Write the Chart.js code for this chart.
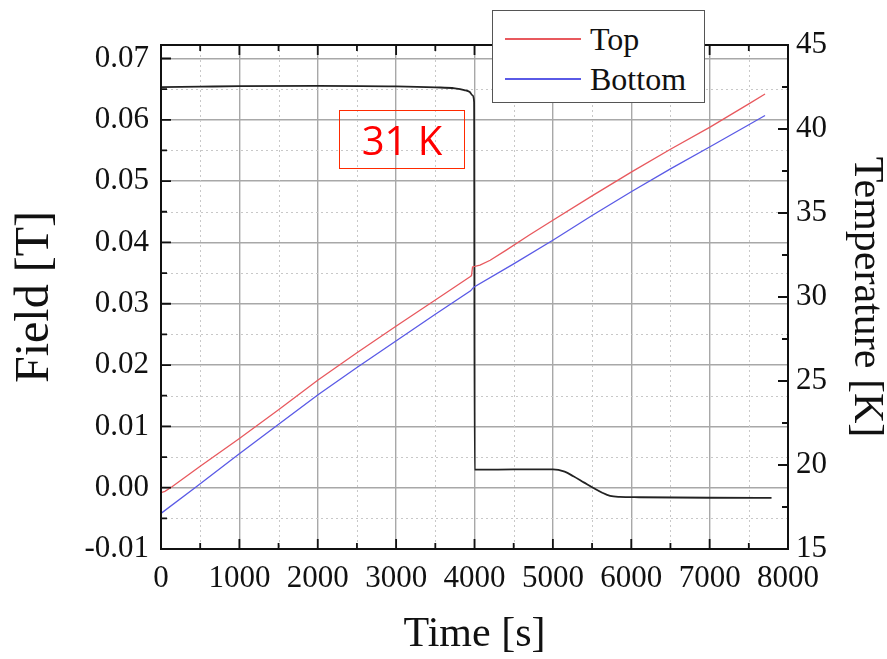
<!DOCTYPE html>
<html lang="en">
<head>
<meta charset="utf-8">
<title>Field and temperature vs time</title>
<script src="https://cdn.jsdelivr.net/npm/chart.js@4"></script>
<style>
    html, body { margin: 0; padding: 0; background: #fff; }
    .wrap { position: relative; width: 887px; height: 659px; }
    #chart { position: absolute; left: 0; top: 0; }
    /* legend box sits over the top frame line */
    .legend { position: absolute; left: 492px; top: 10px; width: 211px; height: 91px;
              border: 1.5px solid #555; background: #fff;
              font-family: "Liberation Serif", serif; font-size: 32px; color: #111; }
    .legend .row { position: absolute; left: 0; width: 100%; height: 36px; }
    .legend .swatch { position: absolute; left: 12px; top: 17px; width: 76px; height: 1.5px; }
    .legend .label { position: absolute; left: 97px; top: 0; line-height: 36px; }
    .note { position: absolute; left: 339px; top: 110px; width: 124px; height: 57px;
            border: 1.5px solid #ff2a00; color: #ff0000;
            font-family: "Open Sans", sans-serif; font-size: 40px; line-height: 57px; text-align: center; }
</style>
</head>
<body>
<div class="wrap">
    <canvas id="chart" width="887" height="659"></canvas>
    <div class="note">31 K</div>
    <div class="legend">
        <div class="row" style="top:10px"><div class="swatch" style="background:#e8595e"></div><span class="label">Top</span></div>
        <div class="row" style="top:50px"><div class="swatch" style="background:#5a5ae6"></div><span class="label">Bottom</span></div>
    </div>
</div>
<script>
    // Top sensor: time [s] and field [T]
    const timeTop  = [0, 50, 136, 500, 987, 1500, 2008, 2500, 3007, 3500, 3943, 3962, 3975, 4070, 4200, 4400, 4700, 5005, 5500, 6005, 6500, 7005, 7500, 7707];
    const fieldTop = [-0.0008, -0.0006, 0.0001, 0.0035, 0.0079, 0.0127, 0.0176, 0.0220, 0.0264, 0.0306, 0.0344, 0.0346, 0.0360, 0.0363, 0.0371, 0.0387, 0.0412, 0.04365, 0.0476, 0.0515, 0.0552, 0.0588, 0.0626, 0.0642];

    // Bottom sensor
    const timeBottom  = [0, 434, 987, 1518, 2008, 2500, 3007, 3500, 3950, 3990, 4500, 5005, 5500, 6005, 6500, 7005, 7500, 7707];
    const fieldBottom = [-0.0042, 0.0, 0.0054, 0.0105, 0.0152, 0.0196, 0.0240, 0.0283, 0.0321, 0.0327, 0.0365, 0.0404, 0.0444, 0.0483, 0.0520, 0.0556, 0.0592, 0.0607];

    // Temperature [K] on the right axis
    const timeTemp = [0, 500, 1000, 2000, 3000, 3500, 3750, 3870, 3940, 3975, 3995, 4002, 4100, 4500, 5000, 5150, 5262, 5400, 5518, 5630, 5730, 5850, 6100, 7000, 7790];
    const tempK    = [42.49, 42.52, 42.55, 42.57, 42.54, 42.48, 42.42, 42.32, 42.2, 42.0, 41.6, 19.72, 19.72, 19.74, 19.74, 19.6, 19.33, 18.95, 18.63, 18.35, 18.16, 18.1, 18.08, 18.05, 18.04];

    // axis ticks
    const timeTicks  = [0, 1000, 2000, 3000, 4000, 5000, 6000, 7000, 8000];
    const fieldTicks = [-0.01, 0.00, 0.01, 0.02, 0.03, 0.04, 0.05, 0.06, 0.07];
    const tempTicks  = [15, 20, 25, 30, 35, 40, 45];

    const pts = (xs, ys) => xs.map((x, i) => ({ x: x, y: ys[i] }));

    const serif = '"Liberation Serif", "Times New Roman", serif';
    const gridGray = '#a8a8a8';

    // dotted minor grid, black frame and inward tick marks
    const frameTicks = {
        id: 'frameTicks',
        beforeDatasetsDraw(chart) {
            const { ctx, chartArea: a, scales } = chart;
            ctx.save();
            ctx.strokeStyle = '#c8c8c8';
            ctx.lineWidth = 1;
            ctx.setLineDash([2, 3]);
            ctx.beginPath();
            for (let i = 0; i < 8; i++) {
                const px = Math.round(scales.x.getPixelForValue(500 + i * 1000)) + 0.5;
                ctx.moveTo(px, a.top); ctx.lineTo(px, a.bottom);
            }
            for (let i = 0; i < 8; i++) {
                const py = Math.round(scales.y.getPixelForValue(-0.005 + i * 0.01)) + 0.5;
                ctx.moveTo(a.left, py); ctx.lineTo(a.right, py);
            }
            ctx.stroke();
            ctx.restore();
        },
        afterDraw(chart) {
            const { ctx, chartArea: a, scales } = chart;
            ctx.save();
            ctx.strokeStyle = '#111';
            ctx.lineWidth = 2;
            ctx.strokeRect(a.left, a.top, a.right - a.left, a.bottom - a.top);
            ctx.lineWidth = 1.8;
            ctx.beginPath();
            // time ticks, bottom and top
            for (let i = 0; i <= 16; i++) {
                const px = scales.x.getPixelForValue(i * 500);
                const len = i % 2 === 0 ? 10 : 6;
                ctx.moveTo(px, a.bottom); ctx.lineTo(px, a.bottom - len);
                ctx.moveTo(px, a.top); ctx.lineTo(px, a.top + len);
            }
            // field ticks, left
            for (let i = 0; i <= 16; i++) {
                const py = scales.y.getPixelForValue(-0.01 + i * 0.005);
                const len = i % 2 === 0 ? 10 : 6;
                ctx.moveTo(a.left, py); ctx.lineTo(a.left + len, py);
            }
            // temperature ticks, right
            for (let i = 0; i <= 12; i++) {
                const py = scales.y1.getPixelForValue(15 + i * 2.5);
                const len = i % 2 === 0 ? 10 : 6;
                ctx.moveTo(a.right, py); ctx.lineTo(a.right - len, py);
            }
            ctx.stroke();
            ctx.restore();
        }
    };

    new Chart(document.getElementById('chart'), {
        type: 'line',
        data: {
            datasets: [
                {
                    label: 'Top',
                    data: pts(timeTop, fieldTop),
                    borderColor: '#e8595e',
                    borderWidth: 1.3,
                    tension: 0,
                    yAxisID: 'y'
                },
                {
                    label: 'Bottom',
                    data: pts(timeBottom, fieldBottom),
                    borderColor: '#5a5ae6',
                    borderWidth: 1.3,
                    tension: 0,
                    yAxisID: 'y'
                },
                {
                    label: 'Temperature',
                    data: pts(timeTemp, tempK),
                    borderColor: '#222',
                    borderWidth: 1.8,
                    cubicInterpolationMode: 'monotone',
                    yAxisID: 'y1'
                }
            ]
        },
        options: {
            responsive: false,
            animation: false,
            devicePixelRatio: 1,
            layout: { padding: { top: 45, left: 0, right: 0, bottom: 0 } },
            elements: {
                point: { radius: 0 }
            },
            plugins: {
                legend: { display: false },
                tooltip: { enabled: false }
            },
            scales: {
                x: {
                    type: 'linear',
                    position: 'bottom',
                    min: 0,
                    max: 8000,
                    afterBuildTicks: s => { s.ticks = timeTicks.map(v => ({ value: v })); },
                    afterFit: s => { s.height = 110; },
                    grid: { color: gridGray, lineWidth: 1.4, drawTicks: false },
                    border: { display: false },
                    ticks: { color: '#111', font: { family: serif, size: 31 }, padding: 11, maxRotation: 0, callback: v => String(v) },
                    title: { display: true, text: 'Time [s]', color: '#111', font: { family: serif, size: 42, lineHeight: 1 }, padding: { top: 0, bottom: 3 } }
                },
                y: {
                    type: 'linear',
                    position: 'left',
                    min: -0.01,
                    max: 0.0722,
                    afterBuildTicks: s => { s.ticks = fieldTicks.map(v => ({ value: v })); },
                    afterFit: s => { s.width = 161; },
                    grid: { color: gridGray, lineWidth: 1.4, drawTicks: false },
                    border: { display: false },
                    ticks: { color: '#111', font: { family: serif, size: 31 }, padding: 12, callback: v => v.toFixed(2) },
                    title: { display: true, text: 'Field [T]', color: '#111', font: { family: serif, size: 48, lineHeight: 1 }, padding: { top: 11, bottom: 0 } }
                },
                y1: {
                    type: 'linear',
                    position: 'right',
                    min: 15,
                    max: 45,
                    afterBuildTicks: s => { s.ticks = tempTicks.map(v => ({ value: v })); },
                    afterFit: s => { s.width = 99; },
                    grid: { drawOnChartArea: false, drawTicks: false },
                    border: { display: false },
                    ticks: { color: '#111', font: { family: serif, size: 31 }, padding: 8 },
                    title: { display: true, text: 'Temperature [K]', color: '#111', font: { family: serif, size: 42, lineHeight: 1 }, padding: { top: 0, bottom: 0 } }
                }
            }
        },
        plugins: [frameTicks]
    });
</script>
</body>
</html>
